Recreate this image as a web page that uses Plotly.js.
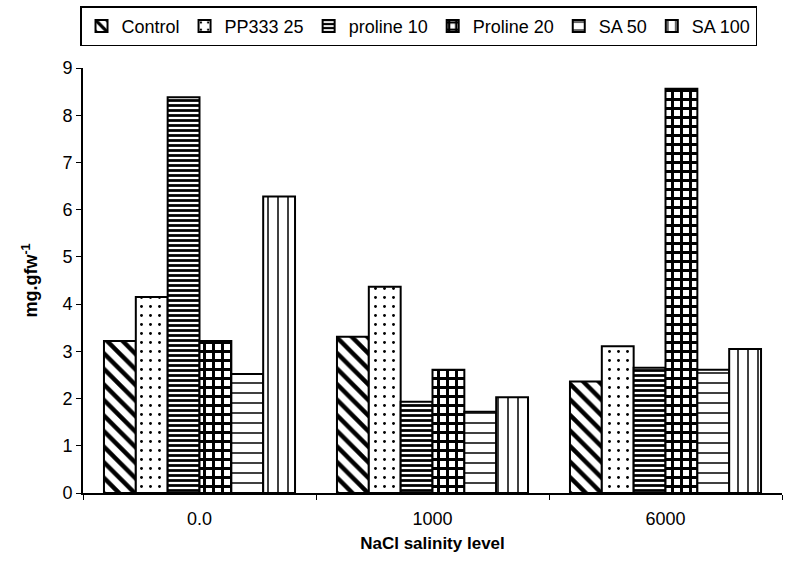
<!DOCTYPE html>
<html>
<head>
<meta charset="utf-8">
<script src="https://cdn.plot.ly/plotly-3.0.1.min.js"></script>
<style>html,body{margin:0;padding:0;background:#fff;}#chart{width:785px;height:577px;}</style>
</head>
<body>
<div id="chart"></div>
<script>
var categories = ['0.0', '1000', '6000'];
var seriesNames = ['Control', 'PP333 25', 'proline 10', 'Proline 20', 'SA 50', 'SA 100'];
var control = [3.22, 3.31, 2.36];
var pp333 = [4.15, 4.37, 3.11];
var proline10 = [8.38, 1.93, 2.65];
var proline20 = [3.22, 2.61, 8.56];
var sa50 = [2.52, 1.72, 2.61];
var sa100 = [6.28, 2.03, 3.05];
var seriesValues = [control, pp333, proline10, proline20, sa50, sa100];

var patterns = [
  {shape: '\\', fgcolor: '#000', bgcolor: '#fff', size: 11, solidity: 0.4},
  {shape: '.', fgcolor: '#000', bgcolor: '#fff', size: 9, solidity: 0.08},
  {shape: '-', fgcolor: '#000', bgcolor: '#fff', size: 5, solidity: 0.55},
  {shape: '+', fgcolor: '#000', bgcolor: '#fff', size: 9, solidity: 0.55},
  {shape: '-', fgcolor: '#000', bgcolor: '#fff', size: 10, solidity: 0.15},
  {shape: '|', fgcolor: '#000', bgcolor: '#fff', size: 10, solidity: 0.15}
];

var font = 'Arial, "Liberation Sans", sans-serif';

var data = seriesNames.map(function (name, i) {
  return {
    type: 'bar',
    name: name,
    x: categories,
    y: seriesValues[i],
    marker: {
      color: '#fff',
      pattern: patterns[i],
      line: {color: '#000', width: 2}
    }
  };
});

var layout = {
  width: 785,
  height: 577,
  margin: {l: 83, r: 3, t: 68, b: 84},
  paper_bgcolor: '#fff',
  plot_bgcolor: '#fff',
  font: {family: font, size: 16, color: '#000'},
  barmode: 'group',
  bargap: 0.18,
  bargroupgap: 0,
  showlegend: true,
  legend: {
    orientation: 'h',
    x: 0.48, xanchor: 'center',
    y: 1.145, yanchor: 'top',
    bordercolor: '#000', borderwidth: 1.5,
    font: {family: font, size: 18, color: '#000'},
    itemwidth: 30,
    tracegroupgap: 0
  },
  xaxis: {
    type: 'category',
    showline: true, linecolor: '#000', linewidth: 2,
    ticks: 'outside', tickson: 'boundaries', ticklen: 5, tickcolor: '#000',
    tickfont: {family: font, size: 18, color: '#000'},
    ticklabelstandoff: 8,
    showgrid: false, zeroline: false,
    title: {text: '<b>NaCl salinity level</b>', font: {family: font, size: 17, color: '#000'}, standoff: 10}
  },
  yaxis: {
    range: [0, 9], dtick: 1,
    showline: true, linecolor: '#000', linewidth: 2,
    ticks: 'outside', ticklen: 5, tickcolor: '#000',
    tickfont: {family: font, size: 18, color: '#000'},
    showgrid: false, zeroline: false,
    title: {text: '<b>mg.gfw<sup>-1</sup></b>', font: {family: font, size: 18, color: '#000'}, standoff: 20}
  }
};

Plotly.newPlot('chart', data, layout, {displayModeBar: false, staticPlot: true});
</script>
</body>
</html>
